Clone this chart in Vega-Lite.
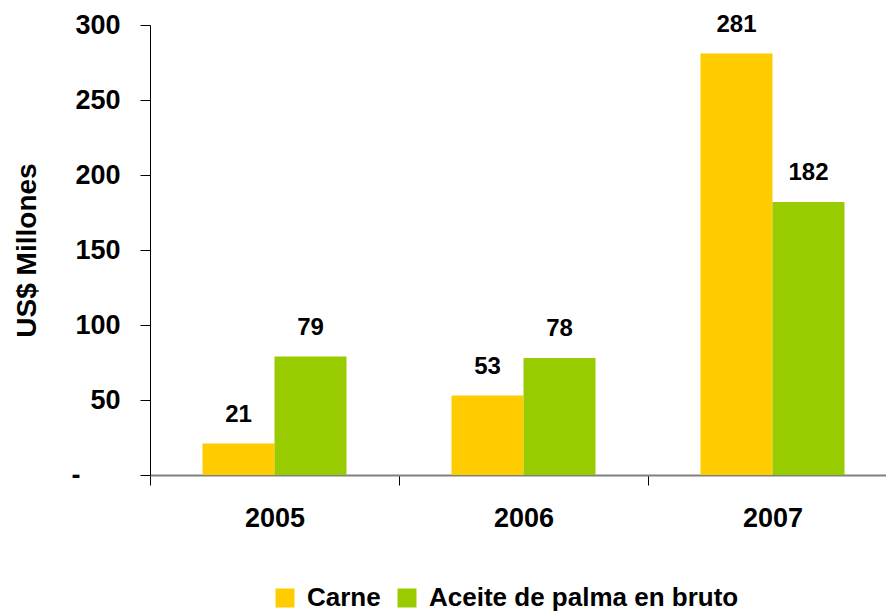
{
  "$schema": "https://vega.github.io/schema/vega-lite/v6.json",
  "autosize": {"type": "none"},
  "padding": {"left": 150, "top": 25, "right": 0, "bottom": 138},
  "width": 747,
  "height": 450,
  "background": "white",
  "config": {
    "font": "Liberation Sans",
    "view": {"stroke": null},
    "axis": {"grid": false, "labelFont": "Liberation Sans", "labelFontWeight": "bold", "titleFont": "Liberation Sans", "titleFontWeight": "bold", "labelColor": "black", "titleColor": "black"}
  },
  "data": {
    "values": [
      {"year": "2005", "serie": "Carne", "value": 21},
      {"year": "2005", "serie": "Aceite de palma en bruto", "value": 79},
      {"year": "2006", "serie": "Carne", "value": 53},
      {"year": "2006", "serie": "Aceite de palma en bruto", "value": 78},
      {"year": "2007", "serie": "Carne", "value": 281},
      {"year": "2007", "serie": "Aceite de palma en bruto", "value": 182}
    ]
  },
  "encoding": {
    "x": {
      "field": "year", "type": "nominal",
      "scale": {"paddingInner": 0, "paddingOuter": 0},
      "axis": {"title": null, "labelAngle": 0, "labelFontSize": 27, "labelPadding": 20, "tickSize": 10, "tickBand": "extent", "tickColor": "black", "domainColor": "#808080", "domainWidth": 2, "ticks": true}
    },
    "xOffset": {
      "field": "serie", "type": "nominal",
      "sort": ["Carne", "Aceite de palma en bruto"],
      "scale": {"paddingInner": 0, "paddingOuter": 0.729}
    },
    "y": {
      "field": "value", "type": "quantitative",
      "scale": {"domain": [0, 300], "nice": false},
      "axis": {"title": "US$ Millones", "titleFontSize": 28, "titlePadding": 30, "values": [0, 50, 100, 150, 200, 250, 300], "labelExpr": "datum.value == 0 ? '-\u2800\u2800' : datum.label", "labelFontSize": 27, "labelPadding": 20, "tickSize": 10, "tickColor": "black", "domainColor": "black"}
    }
  },
  "layer": [
    {
      "mark": {"type": "bar"},
      "encoding": {
        "color": {
          "field": "serie", "type": "nominal",
          "sort": ["Carne", "Aceite de palma en bruto"],
          "scale": {"domain": ["Carne", "Aceite de palma en bruto"], "range": ["#FFCC00", "#99CC00"]},
          "legend": {"title": null, "orient": "none", "legendX": 122, "legendY": 560, "direction": "horizontal", "symbolType": "square", "symbolSize": 361, "symbolStrokeWidth": 0, "labelFontSize": 26, "labelFontWeight": "bold", "labelFont": "Liberation Sans", "labelColor": "black", "labelOffset": 9, "columnPadding": 13, "labelLimit": 500}
        }
      }
    },
    {
      "mark": {"type": "text", "baseline": "bottom", "dy": -17, "fontSize": 24, "fontWeight": "bold", "font": "Liberation Sans", "color": "black"},
      "encoding": {"text": {"field": "value", "type": "quantitative"}}
    }
  ]
}
